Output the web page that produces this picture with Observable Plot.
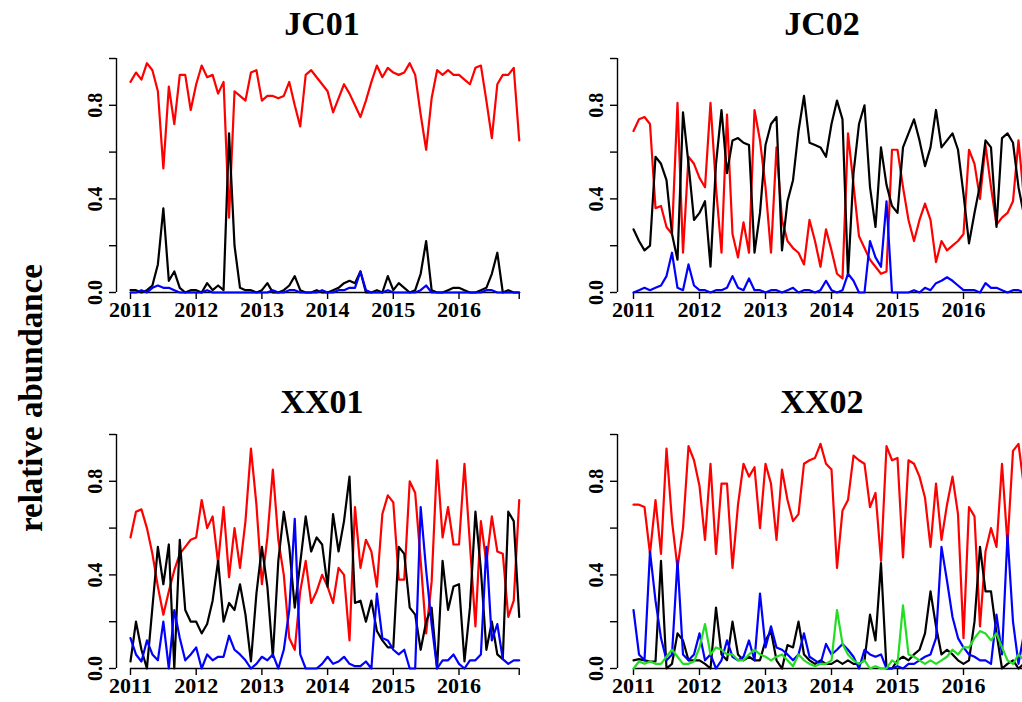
<!DOCTYPE html>
<html><head><meta charset="utf-8">
<script src="https://cdn.jsdelivr.net/npm/d3@7"></script>
<script src="https://cdn.jsdelivr.net/npm/@observablehq/plot@0.6"></script>
<style>
html,body{margin:0;padding:0;background:#fff;overflow:hidden;}
#fig{position:relative;width:1022px;height:702px;overflow:hidden;font-family:'Liberation Serif','Times New Roman',serif;color:#000;}
.title{position:absolute;font-weight:bold;font-size:34px;line-height:34px;transform:translateX(-50%);white-space:nowrap;}
.ylab{position:absolute;font-weight:bold;font-size:33px;line-height:33px;white-space:nowrap;transform:translate(-50%,-50%) rotate(-90deg);}
svg{position:absolute;}
</style></head><body><div id="fig"></div>
<script>
// ---------- data ----------
const panelNames = ["JC01", "JC02", "XX01", "XX02"];
const yearTicks = [2011, 2012, 2013, 2014, 2015, 2016];
const yTickValues = [0, 0.2, 0.4, 0.6, 0.8, 1.0];
const yTickLabels = [0, 0.4, 0.8];
const yLabel = "relative abundance";
const seriesColors = {red: "#ff0000", black: "#000000", blue: "#0000ff", green: "#22dd22"};

const jc01_red = [0.90,0.94,0.91,0.98,0.95,0.86,0.53,0.88,0.72,0.93,0.93,0.78,
  0.89,0.97,0.92,0.93,0.85,0.90,0.32,0.86,0.84,0.82,0.94,0.95,
  0.82,0.84,0.84,0.83,0.84,0.90,0.80,0.71,0.93,0.95,0.92,0.89,
  0.86,0.77,0.83,0.89,0.85,0.80,0.75,0.82,0.90,0.97,0.92,0.96,
  0.94,0.93,0.94,0.98,0.93,0.76,0.61,0.83,0.95,0.93,0.95,0.93,
  0.93,0.91,0.89,0.96,0.97,0.82,0.66,0.89,0.93,0.93,0.96,0.65];
const jc01_black = [0.01,0.01,0.00,0.01,0.03,0.12,0.36,0.05,0.09,0.02,0.00,0.01,
  0.01,0.00,0.04,0.01,0.03,0.01,0.68,0.20,0.02,0.01,0.01,0.00,
  0.01,0.04,0.00,0.00,0.01,0.03,0.07,0.01,0.00,0.00,0.01,0.00,
  0.00,0.01,0.02,0.04,0.05,0.04,0.09,0.00,0.00,0.01,0.00,0.07,
  0.01,0.04,0.02,0.00,0.01,0.08,0.22,0.01,0.00,0.00,0.01,0.02,
  0.02,0.01,0.00,0.00,0.01,0.02,0.08,0.17,0.00,0.01,0.00,0.00];
const jc01_blue = [0.00,0.00,0.01,0.00,0.02,0.03,0.02,0.02,0.01,0.00,0.00,0.00,
  0.00,0.00,0.01,0.00,0.00,0.00,0.00,0.00,0.00,0.00,0.00,0.00,
  0.00,0.00,0.01,0.00,0.00,0.01,0.01,0.00,0.00,0.00,0.00,0.01,
  0.00,0.00,0.01,0.01,0.02,0.02,0.09,0.01,0.00,0.00,0.00,0.01,
  0.00,0.00,0.00,0.00,0.00,0.01,0.03,0.00,0.00,0.00,0.00,0.00,
  0.00,0.00,0.00,0.00,0.00,0.01,0.01,0.00,0.00,0.00,0.00,0.00];

const jc02_red = [0.69,0.74,0.75,0.72,0.36,0.37,0.28,0.25,0.81,0.17,0.58,0.55,
  0.49,0.45,0.81,0.45,0.17,0.76,0.25,0.15,0.30,0.17,0.78,0.65,
  0.45,0.17,0.62,0.31,0.22,0.19,0.17,0.12,0.31,0.22,0.11,0.27,
  0.18,0.08,0.06,0.68,0.46,0.24,0.19,0.14,0.11,0.08,0.09,0.61,
  0.61,0.45,0.31,0.22,0.31,0.38,0.31,0.13,0.22,0.18,0.20,0.22,
  0.25,0.61,0.55,0.40,0.63,0.45,0.29,0.32,0.34,0.39,0.65,0.40];
const jc02_black = [0.27,0.22,0.18,0.20,0.58,0.55,0.48,0.25,0.14,0.77,0.55,0.31,
  0.34,0.39,0.11,0.55,0.78,0.51,0.65,0.66,0.64,0.63,0.17,0.34,
  0.63,0.72,0.75,0.18,0.39,0.48,0.69,0.84,0.64,0.63,0.62,0.58,
  0.72,0.82,0.74,0.07,0.51,0.72,0.80,0.45,0.28,0.62,0.46,0.37,
  0.34,0.62,0.68,0.74,0.65,0.54,0.62,0.78,0.62,0.65,0.68,0.61,
  0.42,0.21,0.34,0.46,0.65,0.62,0.28,0.66,0.68,0.64,0.45,0.33];
const jc02_blue = [0.00,0.01,0.02,0.01,0.02,0.03,0.07,0.17,0.02,0.01,0.12,0.03,
  0.01,0.01,0.00,0.01,0.01,0.02,0.07,0.02,0.01,0.06,0.01,0.01,
  0.00,0.01,0.01,0.00,0.01,0.02,0.00,0.01,0.01,0.00,0.01,0.05,
  0.01,0.00,0.01,0.08,0.05,0.00,0.00,0.22,0.15,0.11,0.39,0.00,
  0.00,0.00,0.00,0.01,0.00,0.02,0.01,0.04,0.05,0.065,0.05,0.03,
  0.01,0.01,0.01,0.00,0.04,0.02,0.02,0.01,0.00,0.01,0.01,0.00];

const xx01_red = [0.56,0.67,0.68,0.60,0.49,0.35,0.23,0.33,0.42,0.49,0.52,0.55,
  0.56,0.72,0.60,0.65,0.45,0.69,0.39,0.60,0.43,0.63,0.94,0.70,
  0.36,0.56,0.85,0.55,0.40,0.13,0.08,0.33,0.46,0.28,0.33,0.40,
  0.35,0.28,0.43,0.40,0.12,0.69,0.43,0.55,0.50,0.35,0.66,0.74,
  0.71,0.38,0.38,0.80,0.75,0.46,0.15,0.37,0.89,0.56,0.69,0.53,
  0.53,0.875,0.53,0.18,0.63,0.45,0.65,0.50,0.49,0.22,0.29,0.72];
const xx01_black = [0.03,0.20,0.08,0.00,0.26,0.52,0.36,0.53,0.00,0.55,0.25,0.20,
  0.20,0.15,0.19,0.29,0.46,0.20,0.28,0.25,0.36,0.23,0.03,0.32,
  0.52,0.35,0.05,0.46,0.67,0.52,0.26,0.45,0.65,0.50,0.56,0.53,
  0.35,0.66,0.50,0.63,0.82,0.28,0.29,0.20,0.29,0.16,0.12,0.09,
  0.09,0.52,0.49,0.26,0.23,0.08,0.20,0.26,0.00,0.46,0.25,0.35,
  0.36,0.03,0.26,0.67,0.42,0.08,0.20,0.06,0.04,0.67,0.63,0.22];
const xx01_blue = [0.13,0.06,0.03,0.12,0.06,0.035,0.20,0.00,0.25,0.13,0.035,0.06,
  0.09,0.00,0.06,0.035,0.05,0.05,0.14,0.08,0.06,0.035,0.00,0.02,
  0.05,0.035,0.06,0.00,0.08,0.25,0.64,0.06,0.00,0.00,0.00,0.02,
  0.05,0.02,0.03,0.05,0.02,0.01,0.01,0.03,0.00,0.32,0.13,0.12,
  0.08,0.06,0.08,0.00,0.00,0.69,0.42,0.19,0.00,0.035,0.035,0.06,
  0.02,0.00,0.035,0.035,0.06,0.52,0.12,0.19,0.04,0.02,0.035,0.035];

const xx02_red = [0.70,0.70,0.69,0.49,0.72,0.49,0.94,0.63,0.43,0.60,0.95,0.89,
  0.78,0.55,0.875,0.49,0.79,0.79,0.43,0.70,0.875,0.82,0.86,0.60,
  0.875,0.79,0.55,0.85,0.72,0.63,0.66,0.875,0.89,0.90,0.96,0.875,
  0.85,0.43,0.675,0.72,0.91,0.89,0.875,0.69,0.75,0.46,0.95,0.89,
  0.90,0.475,0.89,0.875,0.82,0.73,0.52,0.79,0.55,0.70,0.82,0.66,
  0.13,0.69,0.65,0.18,0.50,0.60,0.52,0.875,0.53,0.93,0.96,0.775];
const xx02_black = [0.035,0.04,0.035,0.03,0.03,0.46,0.00,0.02,0.15,0.12,0.035,0.035,
  0.035,0.02,0.00,0.26,0.06,0.035,0.20,0.06,0.035,0.05,0.035,0.035,
  0.12,0.16,0.035,0.00,0.10,0.09,0.20,0.06,0.035,0.02,0.035,0.02,
  0.02,0.035,0.02,0.035,0.02,0.02,0.035,0.23,0.12,0.45,0.00,0.00,
  0.035,0.05,0.035,0.06,0.08,0.15,0.33,0.18,0.06,0.08,0.06,0.035,
  0.02,0.035,0.20,0.52,0.33,0.33,0.15,0.00,0.02,0.035,0.00,0.02];
const xx02_blue = [0.25,0.06,0.035,0.50,0.29,0.13,0.035,0.06,0.46,0.06,0.035,0.06,
  0.15,0.035,0.06,0.00,0.035,0.12,0.05,0.035,0.05,0.12,0.035,0.32,
  0.09,0.18,0.09,0.08,0.06,0.035,0.06,0.15,0.05,0.035,0.02,0.105,
  0.06,0.08,0.105,0.08,0.05,0.00,0.08,0.06,0.05,0.06,0.00,0.00,
  0.01,0.00,0.02,0.02,0.035,0.05,0.06,0.13,0.52,0.375,0.22,0.13,
  0.09,0.06,0.05,0.035,0.035,0.02,0.23,0.06,0.57,0.20,0.02,0.15];
const xx02_green = [0.00,0.03,0.02,0.03,0.02,0.02,0.05,0.08,0.05,0.02,0.02,0.03,
  0.09,0.19,0.06,0.09,0.08,0.06,0.06,0.035,0.035,0.06,0.08,0.06,
  0.05,0.035,0.05,0.06,0.035,0.01,0.06,0.035,0.02,0.01,0.02,0.02,
  0.035,0.25,0.105,0.06,0.035,0.02,0.035,0.00,0.01,0.00,0.00,0.035,
  0.02,0.27,0.06,0.05,0.035,0.02,0.035,0.02,0.035,0.05,0.08,0.06,
  0.09,0.09,0.13,0.16,0.15,0.12,0.15,0.09,0.035,0.02,0.06,0.035];

const panelSeries = {
  JC01: [["red", jc01_red], ["black", jc01_black], ["blue", jc01_blue]],
  JC02: [["red", jc02_red], ["black", jc02_black], ["blue", jc02_blue]],
  XX01: [["red", xx01_red], ["black", xx01_black], ["blue", xx01_blue]],
  XX02: [["red", xx02_red], ["black", xx02_black], ["blue", xx02_blue], ["green", xx02_green]]
};

// ---------- layout ----------
const layout = {
  JC01: {left: 60,  top: 40,  width: 480, height: 290, axisPx: 116, x0Px: 130, ppy: 65.7, y0Px: 292, y1Px: 58,  titleX: 322, titleBase: 35},
  JC02: {left: 560, top: 40,  width: 480, height: 290, axisPx: 617, x0Px: 633, ppy: 66.0, y0Px: 292, y1Px: 58,  titleX: 822, titleBase: 35},
  XX01: {left: 60,  top: 418, width: 480, height: 284, axisPx: 116, x0Px: 130, ppy: 65.7, y0Px: 668, y1Px: 434, titleX: 322, titleBase: 413},
  XX02: {left: 560, top: 418, width: 480, height: 284, axisPx: 617, x0Px: 633, ppy: 66.0, y0Px: 668, y1Px: 434, titleX: 822, titleBase: 413}
};

const fig = document.getElementById("fig");
const FONT = "'Liberation Serif','Times New Roman',serif";

function panel(name) {
  const L = layout[name];
  const mL = L.axisPx - L.left, mR = 10;
  const xmin = 2011 - (L.x0Px - L.axisPx) / L.ppy;
  const xmax = 2011 + (L.left + L.width - mR - L.x0Px) / L.ppy;
  const mT = L.y1Px - L.top, mB = L.top + L.height - L.y0Px;
  const series = panelSeries[name];
  const n = series[0][1].length;
  const lastX = 2011 + (n - 1) / 12;
  const lines = series.map(([key, vals]) =>
    Plot.line(vals.map((v, i) => ({x: 2011 + i / 12, y: v})),
      {x: "x", y: "y", stroke: seriesColors[key], strokeWidth: 2.2, strokeLinejoin: "round"}));
  const svg = Plot.plot({
    width: L.width, height: L.height,
    marginLeft: mL, marginRight: mR, marginTop: mT, marginBottom: mB,
    x: {domain: [xmin, xmax], label: null},
    y: {domain: [0, 1], label: null},
    style: {fontFamily: FONT, fontWeight: "bold", fontSize: "22px", background: "transparent", overflow: "visible"},
    marks: [
      Plot.ruleX([xmin], {y1: 0, y2: 1, strokeWidth: 1.4}),
      Plot.axisY({ticks: yTickValues, tickSize: 7, tickFormat: () => "", label: null, strokeWidth: 1.4}),
      Plot.text(yTickLabels, {x: () => xmin, y: d => d, text: d => d.toFixed(1), rotate: -90, dx: -21,
        fontSize: 20, fontWeight: "bold", fontFamily: FONT, textAnchor: "middle", lineAnchor: "middle"}),
      Plot.ruleY([0], {x1: 2011, x2: lastX, strokeWidth: 1.4}),
      Plot.axisX({ticks: [...yearTicks, lastX], tickSize: 7, tickPadding: 2, label: null,
        tickFormat: d => Number.isInteger(d) ? String(d) : "",
        fontSize: 22, fontWeight: "bold", fontFamily: FONT, strokeWidth: 1.4}),
      ...lines
    ]
  });
  svg.style.left = L.left + "px";
  svg.style.top = L.top + "px";
  fig.appendChild(svg);

  const t = document.createElement("div");
  t.className = "title";
  t.textContent = name;
  t.style.left = L.titleX + "px";
  t.style.top = (L.titleBase - 28.5) + "px";
  fig.appendChild(t);
}

panelNames.forEach(panel);

const yl = document.createElement("div");
yl.className = "ylab";
yl.textContent = yLabel;
yl.style.left = "31px";
yl.style.top = "398px";
fig.appendChild(yl);
</script>
</body></html>
